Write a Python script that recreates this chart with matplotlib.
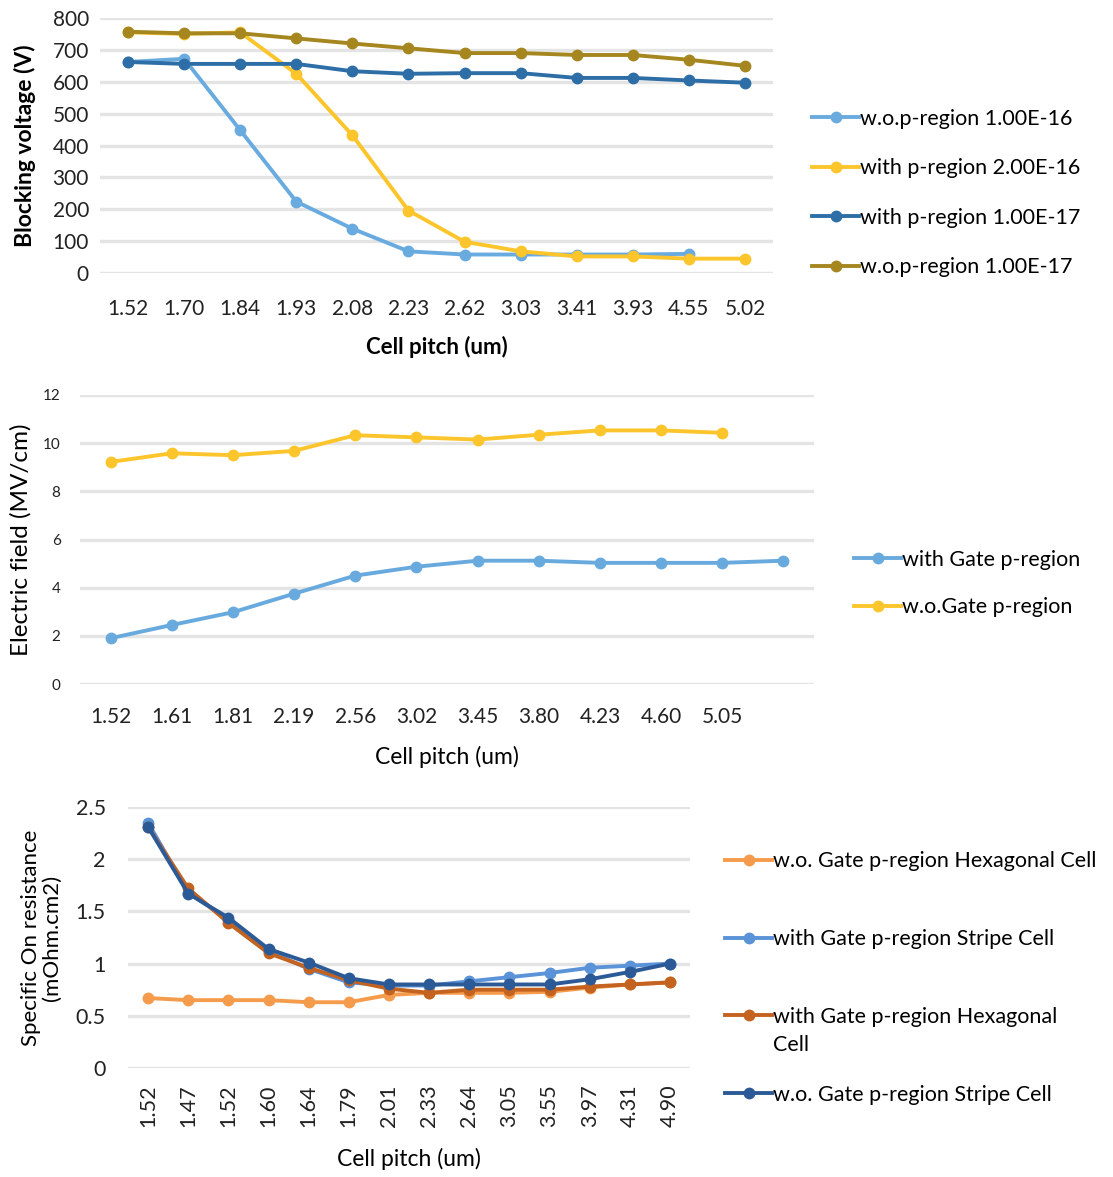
import numpy as np
import matplotlib.pyplot as plt

plt.rcParams['font.family'] = ['Lato', 'DejaVu Sans']

# --- top chart: blocking voltage
pitch_a = ['1.52', '1.70', '1.84', '1.93', '2.08', '2.23', '2.62', '3.03', '3.41', '3.93', '4.55', '5.02']
wop_1e16 = [662, 672, 448, 224, 139, 68, 58, 58, 58, 58, 60]
withp_2e16 = [755, 750, 755, 625, 432, 196, 98, 68, 52, 52, 45, 45]
withp_1e17 = [662, 656, 656, 656, 633, 625, 627, 627, 612, 612, 604, 597]
wop_1e17 = [757, 752, 752, 736, 720, 705, 690, 690, 684, 684, 669, 650]

# --- middle chart: electric field
pitch_b = ['1.52', '1.61', '1.81', '2.19', '2.56', '3.02', '3.45', '3.80', '4.23', '4.60', '5.05', '']
with_gate = [1.9, 2.45, 2.98, 3.75, 4.5, 4.87, 5.12, 5.12, 5.03, 5.03, 5.03, 5.12]
wo_gate = [9.22, 9.58, 9.5, 9.68, 10.33, 10.24, 10.15, 10.35, 10.53, 10.53, 10.43]

# --- bottom chart: specific on resistance
pitch_c = ['1.52', '1.47', '1.52', '1.60', '1.64', '1.79', '2.01', '2.33', '2.64', '3.05', '3.55', '3.97', '4.31', '4.90']
wo_hex = [0.67, 0.65, 0.65, 0.65, 0.63, 0.63, 0.70, 0.72, 0.72, 0.72, 0.73, 0.77, 0.80, 0.82]
with_stripe = [2.35, 1.68, 1.42, 1.12, 0.95, 0.82, 0.79, 0.79, 0.83, 0.87, 0.91, 0.96, 0.98, 1.00]
with_hex = [2.31, 1.72, 1.39, 1.10, 0.96, 0.84, 0.76, 0.72, 0.75, 0.75, 0.75, 0.78, 0.80, 0.82]
wo_stripe = [2.31, 1.67, 1.44, 1.14, 1.01, 0.86, 0.80, 0.80, 0.80, 0.80, 0.80, 0.85, 0.92, 1.00]

W, H = 1113, 1177
fig = plt.figure(figsize=(W / 100, H / 100), dpi=100)


def box(x0, y0, x1, y1):
    return [x0 / W, 1 - y1 / H, (x1 - x0) / W, (y1 - y0) / H]


def style(ax, n):
    ax.set_xlim(-0.5, n - 0.5)
    for s in ax.spines.values():
        s.set_visible(False)
    ax.tick_params(length=0, colors='#222222')
    ax.grid(axis='y', color='#e4e4e4', lw=2.4)
    ax.set_axisbelow(True)


def line(ax, y, c, label):
    ax.plot(np.arange(len(y)), y, '-o', color=c, lw=2.8, ms=7.5, label=label)


def legend(ax, x, yc, spacing):
    return ax.legend(loc='center left', bbox_to_anchor=(x / W, 1 - yc / H), bbox_transform=fig.transFigure,
                     frameon=False, fontsize=15.5, labelspacing=spacing, handlelength=2.2,
                     handletextpad=0.05, borderaxespad=0, borderpad=0)


ax1 = fig.add_axes(box(100, 18, 773, 273))
style(ax1, len(pitch_a))
line(ax1, wop_1e16, '#6aabdf', 'w.o.p-region 1.00E-16')
line(ax1, withp_2e16, '#fcc52b', 'with p-region 2.00E-16')
line(ax1, withp_1e17, '#2e6ea6', 'with p-region 1.00E-17')
line(ax1, wop_1e17, '#a5861f', 'w.o.p-region 1.00E-17')
ax1.set_ylim(0, 800)
ax1.set_yticks(range(0, 801, 100))
ax1.set_xticks(range(len(pitch_a)), pitch_a)
ax1.tick_params(labelsize=15, pad=19)
ax1.tick_params(axis='y', pad=8)
ax1.set_ylabel('Blocking voltage (V)', fontsize=16.5, fontweight='bold', labelpad=12)
ax1.set_xlabel('Cell pitch (um)', fontsize=16, fontweight='bold', labelpad=12)
legend(ax1, 812, 193, 1.37)

ax2 = fig.add_axes(box(80, 395, 814, 684))
style(ax2, len(pitch_b))
line(ax2, with_gate, '#68aade', 'with Gate p-region')
line(ax2, wo_gate, '#fcc52b', 'w.o.Gate p-region')
ax2.set_ylim(0, 12)
ax2.set_yticks(range(0, 13, 2))
ax2.set_xticks(range(len(pitch_b)), pitch_b)
ax2.tick_params(axis='x', labelsize=15, pad=16.5)
ax2.tick_params(axis='y', labelsize=11, pad=14)
ax2.set_ylabel('Electric field (MV/cm)', fontsize=17.5, labelpad=8)
ax2.set_xlabel('Cell pitch (um)', fontsize=16.5, labelpad=14)
legend(ax2, 854, 583.5, 1.27)

ax3 = fig.add_axes(box(128, 807, 690, 1068))
style(ax3, len(pitch_c))
line(ax3, wo_hex, '#f59b4c', 'w.o. Gate p-region Hexagonal Cell')
line(ax3, with_stripe, '#5a93d8', 'with Gate p-region Stripe Cell')
line(ax3, with_hex, '#c4621f', 'with Gate p-region Hexagonal')
line(ax3, wo_stripe, '#2c5a96', 'w.o. Gate p-region Stripe Cell')
ax3.set_ylim(0, 2.5)
ax3.set_yticks([0, 0.5, 1, 1.5, 2, 2.5], ['0', '0.5', '1', '1.5', '2', '2.5'])
ax3.set_xticks(range(len(pitch_c)), pitch_c, rotation=90)
ax3.tick_params(labelsize=15.5, pad=12)
ax3.tick_params(axis='y', pad=16)
ax3.set_ylabel('Specific On resistance\n(mOhm.cm2)', fontsize=16, labelpad=10, linespacing=1.05)
ax3.set_xlabel('Cell pitch (um)', fontsize=16.5, labelpad=15)
leg3 = legend(ax3, 725, 978, 2.69)

# second line of the wrapped legend label, under the third entry
fig.canvas.draw()
bb = leg3.get_texts()[2].get_window_extent()
fig.text(bb.x0 / W, (bb.y0 - 8) / H, 'Cell', fontsize=15.5, va='top', ha='left')

fig.savefig('out.png', dpi=100, facecolor='white')
